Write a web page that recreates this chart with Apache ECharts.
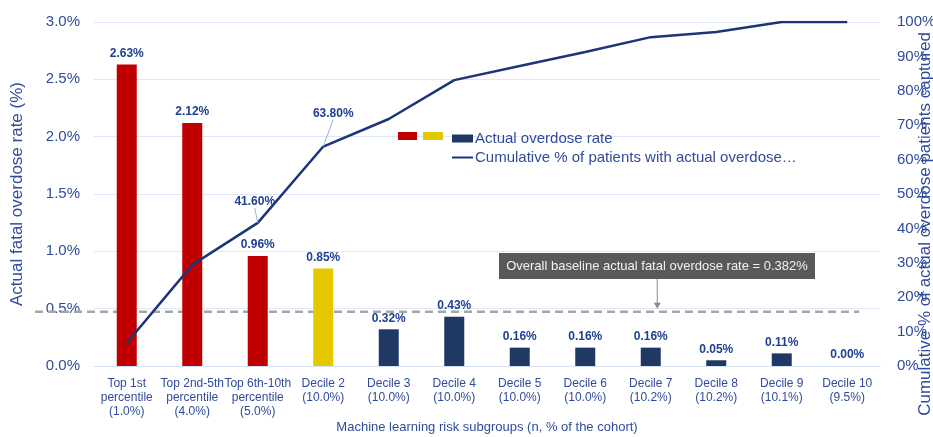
<!DOCTYPE html>
<html><head><meta charset="utf-8">
<script src="https://cdn.jsdelivr.net/npm/echarts@6/dist/echarts.min.js"></script>
<style>html,body{margin:0;padding:0;background:#fff}#c{width:933px;height:437px}</style>
</head><body><div id="c"></div>
<script>
const categories = ["Top 1st\npercentile\n(1.0%)","Top 2nd-5th\npercentile\n(4.0%)","Top 6th-10th\npercentile\n(5.0%)","Decile 2\n(10.0%)","Decile 3\n(10.0%)","Decile 4\n(10.0%)","Decile 5\n(10.0%)","Decile 6\n(10.0%)","Decile 7\n(10.2%)","Decile 8\n(10.2%)","Decile 9\n(10.1%)","Decile 10\n(9.5%)"];
const overdoseRate = [2.63,2.12,0.96,0.85,0.32,0.43,0.16,0.16,0.16,0.05,0.11,0.00];
const barColors = ["#C00000","#C00000","#C00000","#E5C800","#1F3864","#1F3864","#1F3864","#1F3864","#1F3864","#1F3864","#1F3864","#1F3864"];
const cumulativeCaptured = [6.7,29.4,41.6,63.8,71.8,83.1,87.2,91.3,95.6,97.1,100,100];
const cumulativeLabelIdx = [2,3];
const baselineLineValue = 0.474;
const baselineText = "Overall baseline actual fatal overdose rate = 0.382%";
const rightAxisTitle = "Cumulative % of actual overdose patients captured";
const leftTicks = {min:0,max:3,interval:0.5};
const rightTicks = {min:0,max:100,interval:10};

const FONT = "Liberation Sans, Arial, sans-serif";
const BLUE = "#2E4B9E";
const labelShift = {2:{dx:-3,dy:-10},3:{dx:10,dy:-22}};
const chart = echarts.init(document.getElementById('c'));
const option = {
  animation:false,
  textStyle:{fontFamily:FONT},
  grid:{left:94,right:53,top:22,bottom:71,containLabel:false,outerBoundsMode:'none'},
  legend:{
    orient:'vertical', left:451, top:131, padding:0, itemWidth:21, itemHeight:8, itemGap:4,
    textStyle:{color:BLUE,fontSize:15,fontFamily:FONT,padding:[0,0,0,-3]},
    data:[{name:'Actual overdose rate',icon:'rect'},{name:'Cumulative % of patients with actual overdose…',itemStyle:{opacity:0}}]
  },
  xAxis:{
    type:'category', data:categories,
    name:'Machine learning risk subgroups (n, % of the cohort)', nameLocation:'middle', nameGap:55, nameMoveOverlap:false,
    nameTextStyle:{color:BLUE,fontSize:13},
    axisLine:{lineStyle:{color:'#D6E3F5'}}, axisTick:{show:false},
    axisLabel:{color:BLUE,fontSize:12,lineHeight:14,margin:11,interval:0}
  },
  yAxis:[{
    type:'value', min:leftTicks.min, max:leftTicks.max, interval:leftTicks.interval,
    name:'Actual fatal overdose rate (%)', nameLocation:'middle', nameGap:68, nameRotate:90, nameMoveOverlap:false,
    nameTextStyle:{color:BLUE,fontSize:17},
    axisLabel:{color:BLUE,fontSize:15,margin:14,formatter:v=>v.toFixed(1)+'%'},
    splitLine:{lineStyle:{color:'#DCE7F7'}}, axisLine:{show:false}, axisTick:{show:false}
  },{
    type:'value', min:rightTicks.min, max:rightTicks.max, interval:rightTicks.interval,
    axisLabel:{color:BLUE,fontSize:15,margin:17,formatter:v=>v+'%'},
    splitLine:{show:false}, axisLine:{show:false}, axisTick:{show:false}
  }],
  series:[{
    name:'Actual overdose rate', type:'bar', barWidth:20, color:'#1F3864',
    data:overdoseRate.map((v,i)=>({value:v,itemStyle:{color:barColors[i]}})),
    label:{show:true,position:'top',distance:5,color:'#1F3F94',fontWeight:'bold',fontSize:12,formatter:p=>p.value.toFixed(2)+'%'},
    z:2
  },{
    name:'Cumulative % of patients with actual overdose…', type:'line', yAxisIndex:1,
    showSymbol:true, symbol:'circle', symbolSize:0.01, color:'#1B3578',
    lineStyle:{width:2.5,color:'#1B3578'},
    data:cumulativeCaptured.map((v,i)=>cumulativeLabelIdx.includes(i)
      ? {value:v,label:{show:true},labelLine:{show:true,lineStyle:{color:'#8FB4E3',width:1}}}
      : {value:v,label:{show:false},labelLine:{show:false}}),
    label:{show:false,position:'top',distance:5,color:'#1F3F94',fontWeight:'bold',fontSize:12,
      formatter:p=>p.value.toFixed(2)+'%'},
    labelLayout:function(p){ return labelShift[p.dataIndex] || {}; },
    z:3
  }]
};
chart.setOption(option);
const yB = chart.convertToPixel({yAxisIndex:0}, baselineLineValue);
const xEnd = chart.convertToPixel({xAxisIndex:0}, categories.length-1) + 12;
const xArrow = chart.convertToPixel({xAxisIndex:0}, 7) + 72;
chart.setOption({graphic:[
  {type:'line',shape:{x1:35,y1:yB,x2:xEnd,y2:yB},style:{stroke:'#A6A6A6',lineWidth:2.5,lineDash:[8,5]},z:1},
  {type:'rect',shape:{x:499,y:253,width:316,height:26},style:{fill:'#595959'},z:10},
  {type:'text',x:657,y:266,style:{text:baselineText,fill:'#F2F2F2',font:'13px '+FONT,align:'center',verticalAlign:'middle'},z:11},
  {type:'line',shape:{x1:xArrow,y1:279,x2:xArrow,y2:yB-6},style:{stroke:'#8C8C8C',lineWidth:1},z:10},
  {type:'polygon',shape:{points:[[xArrow-3.5,yB-9],[xArrow+3.5,yB-9],[xArrow,yB-3]]},style:{fill:'#8C8C8C'},z:10},
  {type:'rect',shape:{x:398,y:132,width:19,height:8},style:{fill:'#C00000'},z:10},
  {type:'rect',shape:{x:423,y:132,width:20,height:8},style:{fill:'#E5C800'},z:10},
  {type:'text',x:925,y:224,rotation:Math.PI/2,style:{text:rightAxisTitle,fill:BLUE,font:'17px '+FONT,align:'center',verticalAlign:'middle'},z:12}
]});
</script></body></html>
